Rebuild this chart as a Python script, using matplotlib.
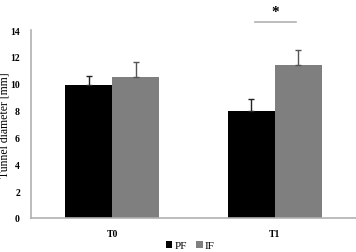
import numpy as np
import matplotlib.pyplot as plt

groups = ["T0", "T1"]
pf_mean = [9.9, 8.0]
pf_err = [0.7, 0.85]
if_mean = [10.5, 11.4]
if_err = [1.1, 1.1]

fig = plt.figure(figsize=(3.56, 2.53), dpi=100)
ax = fig.add_axes([31 / 356, 34 / 253, 325 / 356, 188 / 253])

x = np.arange(len(groups))
w = 0.29
serif = ["Liberation Serif", "DejaVu Serif"]

ax.bar(x - w / 2, pf_mean, w, color="black", label="PF")
ax.bar(x + w / 2, if_mean, w, color="#7f7f7f", label="IF")
ax.errorbar(x - w / 2, pf_mean, yerr=[np.zeros(2), pf_err], fmt="none",
            ecolor="#222222", elinewidth=1, capsize=2.5, capthick=1)
ax.errorbar(x + w / 2, if_mean, yerr=[np.zeros(2), if_err], fmt="none",
            ecolor="#555555", elinewidth=1, capsize=2.5, capthick=1)

ax.set_xlim(-0.5, 1.5)
ax.set_ylim(0, 14)
ax.set_yticks(range(0, 15, 2))
ax.set_xticks(x)
ax.set_xticklabels(groups)
ax.tick_params(length=0, labelsize=7, pad=8)
for lab in ax.get_xticklabels() + ax.get_yticklabels():
    lab.set_family(serif)
    lab.set_fontweight("bold")
ax.tick_params(axis="x", pad=8)

for s in ["top", "right"]:
    ax.spines[s].set_visible(False)
for s in ["left", "bottom"]:
    ax.spines[s].set_color("#b0b0b0")
    ax.spines[s].set_linewidth(1.2)

ax.set_ylabel("Tunnel diameter [mm]", family=serif, fontsize=8.5)
ax.yaxis.set_label_coords(-0.062, 0.5)

# significance marker
ax.plot([1 - 0.12, 1 + 0.13], [14.6, 14.6], color="#b0b0b0", lw=1.2, clip_on=False)
ax.text(1.0, 15.35, "*", ha="center", va="center", fontsize=11, fontweight="bold",
        family=serif, clip_on=False)

ax.legend(loc="center", bbox_to_anchor=(0.49, -0.145), ncol=2, frameon=False,
          prop={"family": serif, "size": 8}, handlelength=0.6, handleheight=0.6,
          handletextpad=0.2, columnspacing=0.8)

fig.savefig("out.png", dpi=100)
